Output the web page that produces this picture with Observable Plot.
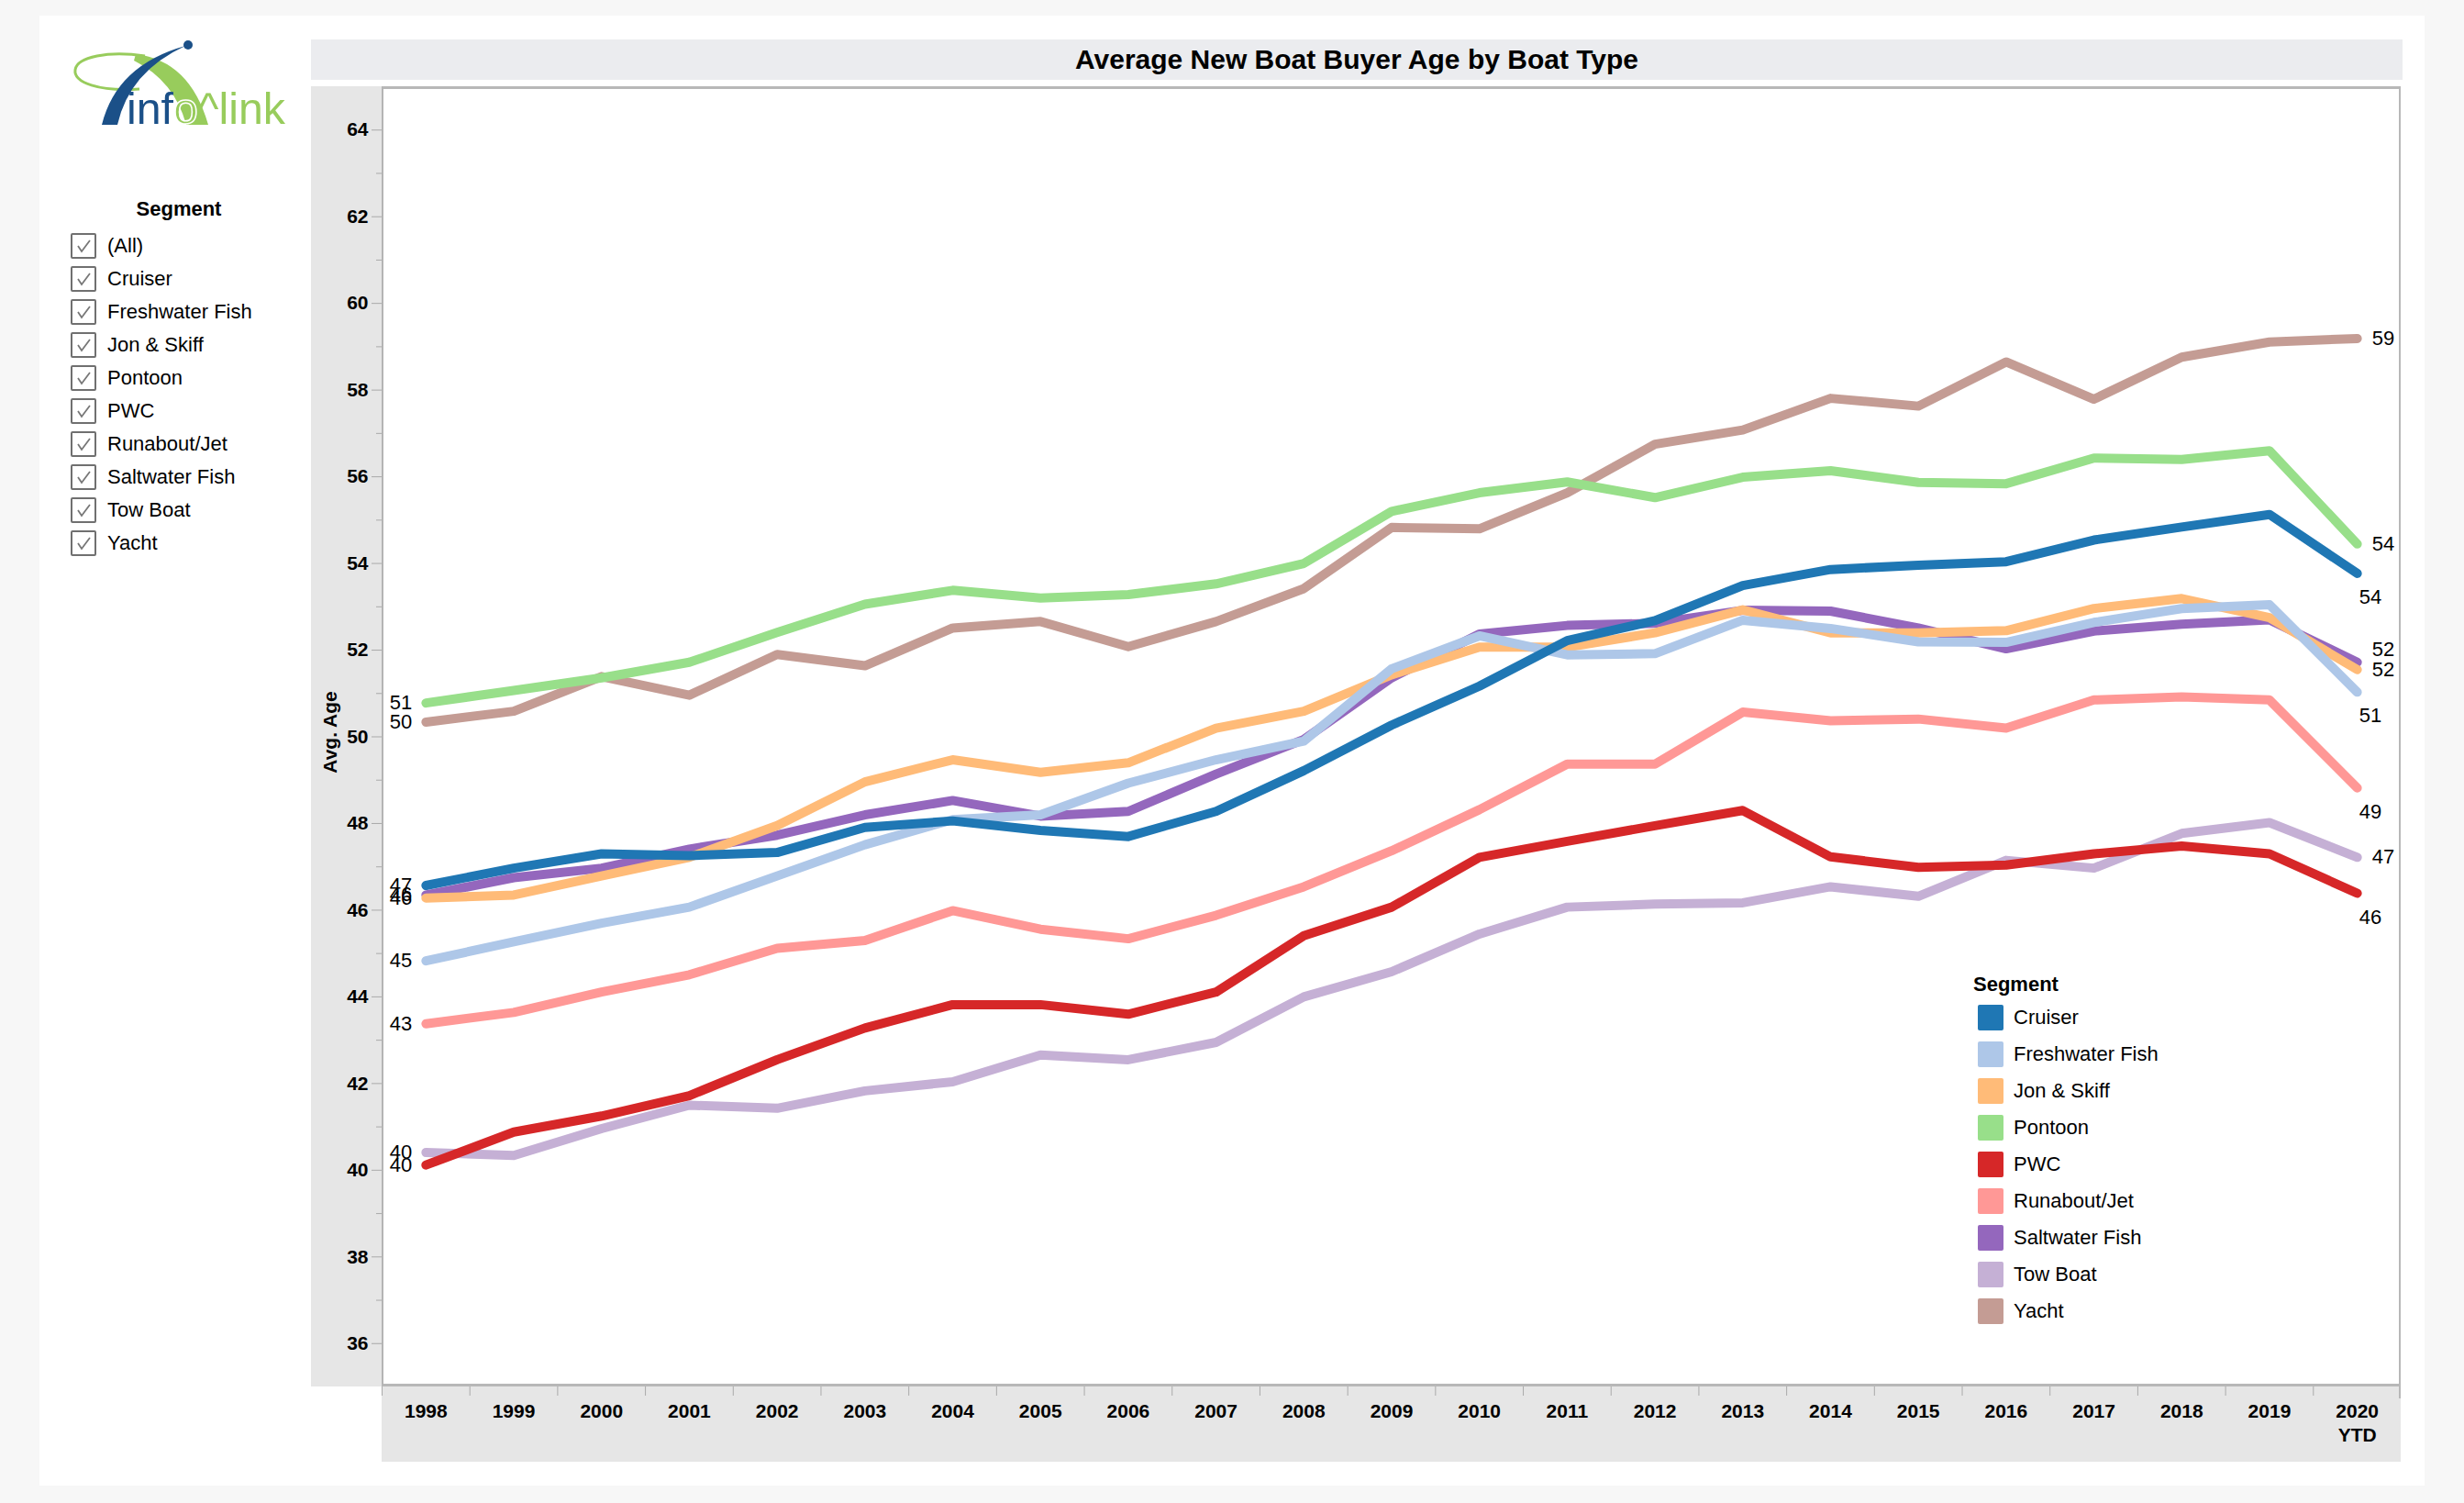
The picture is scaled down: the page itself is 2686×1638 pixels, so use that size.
<!DOCTYPE html>
<html>
<head>
<meta charset="utf-8">
<script src="https://cdn.jsdelivr.net/npm/d3@7"></script>
<script src="https://cdn.jsdelivr.net/npm/@observablehq/plot@0.6"></script>
<style>
html,body{margin:0;padding:0;background:#f7f7f7;width:2686px;height:1638px;overflow:hidden;font-family:"Liberation Sans",Arial,Helvetica,sans-serif;}
.abs{position:absolute;}
#card{left:43px;top:17px;width:2600px;height:1602px;background:#fff;}
#titlebar{left:339px;top:43px;width:2280px;height:44px;background:#ebecef;display:flex;align-items:center;justify-content:center;font-weight:bold;font-size:30px;color:#000;}
#ypanel{left:339px;top:94px;width:77px;height:1417px;background:#e6e6e6;}
#xpanel{left:416px;top:1511px;width:2201px;height:82px;background:#e6e6e6;}
#plotbg{left:416px;top:94px;width:2201px;height:1417px;background:#fff;box-sizing:border-box;border-top:3px solid #b8b8b8;border-left:2px solid #b4b4b4;border-bottom:3px solid #b8b8b8;}
#rightline{left:2615px;top:94px;width:2px;height:1430px;background:#b8b8b8;}
#ylabel{left:360px;top:798px;transform:translate(-50%,-50%) rotate(-90deg);font-weight:bold;font-size:21px;white-space:nowrap;color:#000;}
#chart{left:339px;top:94px;}
#filter-title{left:195px;top:228px;transform:translate(-50%,-50%);font-weight:bold;font-size:22px;}
.fitem{position:absolute;left:77px;height:28px;display:flex;align-items:center;font-size:22px;color:#000;}
.box{width:24px;height:24px;border:2px solid #707070;border-radius:2px;margin-right:12px;background:#fff;}
#legend-title{left:2151px;top:1073px;transform:translateY(-50%);font-weight:bold;font-size:22px;}
.litem{position:absolute;left:2156px;height:28px;display:flex;align-items:center;font-size:22px;color:#000;}
.sw{width:28px;height:28px;border-radius:2px;margin-right:11px;}
</style>
</head>
<body>
<div id="card" class="abs"></div>
<svg class="abs" style="left:70px;top:35px" width="260" height="115" viewBox="70 35 260 115">
  <path d="M 152 97 C 108 100, 80 90, 82 76 C 84 62, 118 55, 158 61" fill="none" stroke="#98cc5c" stroke-width="3"/>
  <path d="M 148 59 Q 207 66 227 136 L 203 136 Q 190 88 146 66 Z" fill="#98cc5c"/>
  <path d="M 111 136 Q 127 71 202 50 Q 141 78 128 136 Z" fill="#1b5088"/>
  <circle cx="205" cy="49" r="5" fill="#1b5088"/>
  <text x="138" y="135" textLength="173" lengthAdjust="spacingAndGlyphs" font-family="Liberation Sans, Arial, sans-serif" font-size="48" fill="#1b5088">inf<tspan fill="#98cc5c" stroke="#ffffff" stroke-width="1.5">o</tspan><tspan fill="#98cc5c">^link</tspan></text>
</svg>
<div id="filter-title" class="abs">Segment</div>
<div id="filters"></div>
<div id="titlebar" class="abs">Average New Boat Buyer Age by Boat Type</div>
<div id="ypanel" class="abs"></div>
<div id="xpanel" class="abs"></div>
<div id="plotbg" class="abs"></div>
<div id="rightline" class="abs"></div>
<div id="ylabel" class="abs">Avg. Age</div>
<div id="chart" class="abs"></div>
<div id="legend-title" class="abs">Segment</div>
<div id="legend"></div>
<script>
const years = ["1998","1999","2000","2001","2002","2003","2004","2005","2006","2007","2008","2009","2010","2011","2012","2013","2014","2015","2016","2017","2018","2019","2020"];
const yearLabels = {"2020": "2020\nYTD"};
const segments = ["Cruiser","Freshwater Fish","Jon & Skiff","Pontoon","PWC","Runabout/Jet","Saltwater Fish","Tow Boat","Yacht"];
const colors = ["#1f77b4","#aec7e8","#ffbb78","#98df8a","#d62728","#ff9896","#9467bd","#c5b0d5","#c49c94"];
const filterItems = ["(All)"].concat(segments);

const cruiser    = [46.57,46.97,47.30,47.26,47.33,47.91,48.06,47.84,47.70,48.28,49.22,50.27,51.17,52.22,52.68,53.49,53.86,53.96,54.04,54.54,54.84,55.13,53.77];
const freshwater = [44.83,45.27,45.70,46.07,46.79,47.51,48.09,48.20,48.93,49.47,49.90,51.57,52.33,51.89,51.92,52.69,52.50,52.19,52.18,52.64,52.96,53.05,51.03];
const jonSkiff   = [46.28,46.35,46.79,47.22,47.95,48.96,49.47,49.18,49.40,50.20,50.59,51.43,52.07,52.07,52.40,52.93,52.40,52.40,52.45,52.96,53.19,52.75,51.55];
const pontoon    = [50.78,51.07,51.36,51.72,52.41,53.06,53.38,53.20,53.28,53.53,54.00,55.20,55.63,55.88,55.52,55.99,56.14,55.87,55.84,56.43,56.40,56.60,54.45];
const pwc        = [40.12,40.88,41.25,41.72,42.55,43.28,43.82,43.82,43.60,44.11,45.41,46.07,47.22,47.59,47.95,48.30,47.23,46.99,47.04,47.30,47.48,47.30,46.39];
const runabout   = [43.38,43.64,44.11,44.51,45.12,45.30,45.99,45.56,45.34,45.88,46.54,47.37,48.32,49.37,49.37,50.57,50.37,50.41,50.20,50.85,50.92,50.85,48.82];
const saltwater  = [46.35,46.75,46.97,47.41,47.73,48.20,48.53,48.17,48.28,49.14,49.94,51.36,52.37,52.57,52.62,52.92,52.90,52.51,52.03,52.44,52.60,52.70,51.72];
const towBoat    = [40.41,40.34,40.96,41.50,41.43,41.83,42.04,42.66,42.55,42.95,44.00,44.58,45.45,46.07,46.14,46.17,46.54,46.32,47.15,46.97,47.77,48.02,47.22];
const yacht      = [50.34,50.59,51.39,50.96,51.90,51.64,52.51,52.66,52.08,52.66,53.42,54.83,54.80,55.63,56.75,57.08,57.81,57.63,58.65,57.79,58.76,59.11,59.19];
const seriesValues = [cruiser, freshwater, jonSkiff, pontoon, pwc, runabout, saltwater, towBoat, yacht];

// rows in reverse order so the first segment is drawn on top
const rows = [];
for (let s = segments.length - 1; s >= 0; s--) {
  seriesValues[s].forEach((v, i) => rows.push({segment: segments[s], year: years[i], value: v}));
}

const first = rows.filter(d => d.year === years[0]);
const last = rows.filter(d => d.year === years[years.length - 1]);
const rightSegs = ["Yacht","Pontoon","Jon & Skiff","Tow Boat"];
const raisedSegs = ["Saltwater Fish"];
const belowSegs = ["Cruiser","Freshwater Fish","Runabout/Jet","PWC"];
const fmt = d => String(Math.round(d.value));

const W = 2278, H = 1499, ML = 77, MB = 82;
const half = (W - ML) / years.length / 2;
const font = "Liberation Sans, Arial, Helvetica, sans-serif";

const plot = Plot.plot({
  width: W, height: H,
  marginLeft: ML, marginRight: 0, marginTop: 0, marginBottom: MB,
  style: {fontFamily: font, fontSize: "21px", background: "transparent", overflow: "visible", color: "#000"},
  x: {type: "point", domain: years, padding: 0.5, round: false, label: null},
  y: {domain: [35, 65], label: null},
  color: {domain: segments, range: colors},
  marks: [
    Plot.axisY({ticks: d3.range(36, 65, 2), tickSize: 11, tickPadding: 4, stroke: "#aaaaaa", fill: "#000", fontWeight: "bold", label: null}),
    Plot.axisY({ticks: d3.range(37, 64, 2), tickSize: 6, tickFormat: () => "", stroke: "#aaaaaa", label: null}),
    Plot.axisX({ticks: years, tickSize: 0, tickPadding: 16, fontWeight: "bold", fill: "#000", lineHeight: 1.2, tickFormat: d => yearLabels[d] || d, label: null}),
    Plot.axisX({ticks: years, tickSize: 10, tickFormat: () => "", stroke: "#aaaaaa", dx: -half, label: null}),
    Plot.line(rows, {x: "year", y: "value", z: "segment", stroke: "segment", strokeWidth: 10, strokeLinecap: "round", strokeLinejoin: "round"}),
    Plot.text(first, {x: "year", y: "value", text: fmt, textAnchor: "end", dx: -15, fontSize: 22, fill: "#000"}),
    Plot.text(last.filter(d => rightSegs.includes(d.segment)), {x: "year", y: "value", text: fmt, textAnchor: "start", dx: 16, fontSize: 22, fill: "#000"}),
    Plot.text(last.filter(d => raisedSegs.includes(d.segment)), {x: "year", y: "value", text: fmt, textAnchor: "start", dx: 16, dy: -14, fontSize: 22, fill: "#000"}),
    Plot.text(last.filter(d => belowSegs.includes(d.segment)), {x: "year", y: "value", text: fmt, textAnchor: "start", dx: 2, dy: 26, fontSize: 22, fill: "#000"})
  ]
});
document.getElementById("chart").appendChild(plot);

// filter list
const filters = document.getElementById("filters");
filterItems.forEach((name, i) => {
  const div = document.createElement("div");
  div.className = "fitem";
  div.style.top = (254 + i * 36) + "px";
  div.innerHTML = '<div class="box"><svg width="24" height="24"><polyline points="6,12 10,18 19,6" fill="none" stroke="#777" stroke-width="1.8"/></svg></div>';
  const span = document.createElement("span");
  span.textContent = name;
  div.appendChild(span);
  filters.appendChild(div);
});

// color legend
const legend = document.getElementById("legend");
segments.forEach((name, i) => {
  const div = document.createElement("div");
  div.className = "litem";
  div.style.top = (1095 + i * 40) + "px";
  const sw = document.createElement("div");
  sw.className = "sw";
  sw.style.background = colors[i];
  const span = document.createElement("span");
  span.textContent = name;
  div.appendChild(sw);
  div.appendChild(span);
  legend.appendChild(div);
});
</script>
</body>
</html>
